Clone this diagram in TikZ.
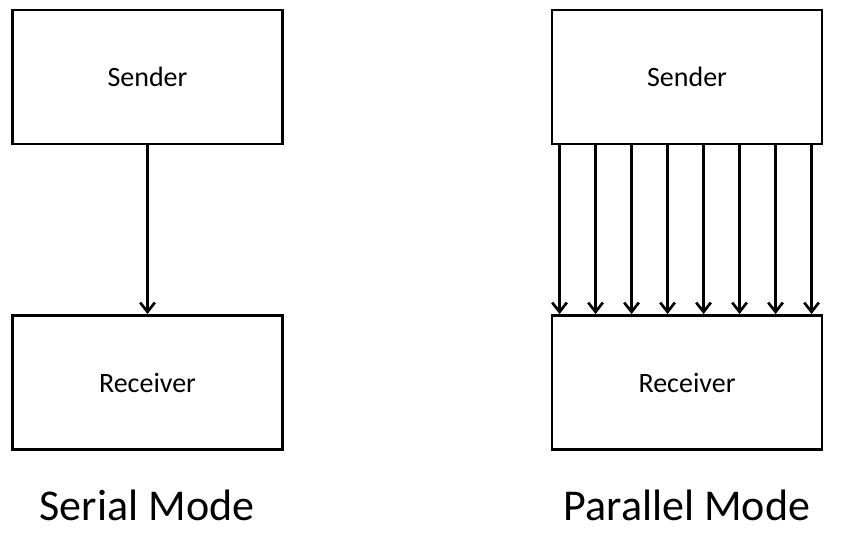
\documentclass[tikz,border=0pt]{standalone}
\usepackage{fontspec}
\setmainfont{Carlito}
\usetikzlibrary{arrows.meta}

\tikzset{
  unit/.style={draw, line width=2.2pt, minimum width=202.5pt, minimum height=100.5pt, font=\fontsize{21}{24}\selectfont},
  wire/.style={line width=2.2pt, -{Straight Barb[length=7pt,width=11pt,line width=2pt]}},
  caption/.style={font=\fontsize{33}{40}\selectfont}
}

\begin{document}
\begin{tikzpicture}[x=0.75pt, y=-0.75pt]
   \useasboundingbox (0,0) rectangle (841,554);

   \node[unit] (S1) at (147.5,77) {Sender};
   \node[unit] (R1) at (147.5,382.5) {Receiver};
   \node[unit] (S2) at (687,77) {Sender};
   \node[unit] (R2) at (687,382.5) {Receiver};

   \draw[wire] (S1) -- (R1);

   \foreach \i in {0,...,7}
   \draw[wire] ([xshift=6.75pt+\i*27pt]S2.south west) -- ([xshift=6.75pt+\i*27pt]R2.north west);

   \node[caption] (L1) at (147,505) {Serial Mode};
   \node[caption] (L2) at (687,505) {Parallel Mode};

\end{tikzpicture}
\end{document}
